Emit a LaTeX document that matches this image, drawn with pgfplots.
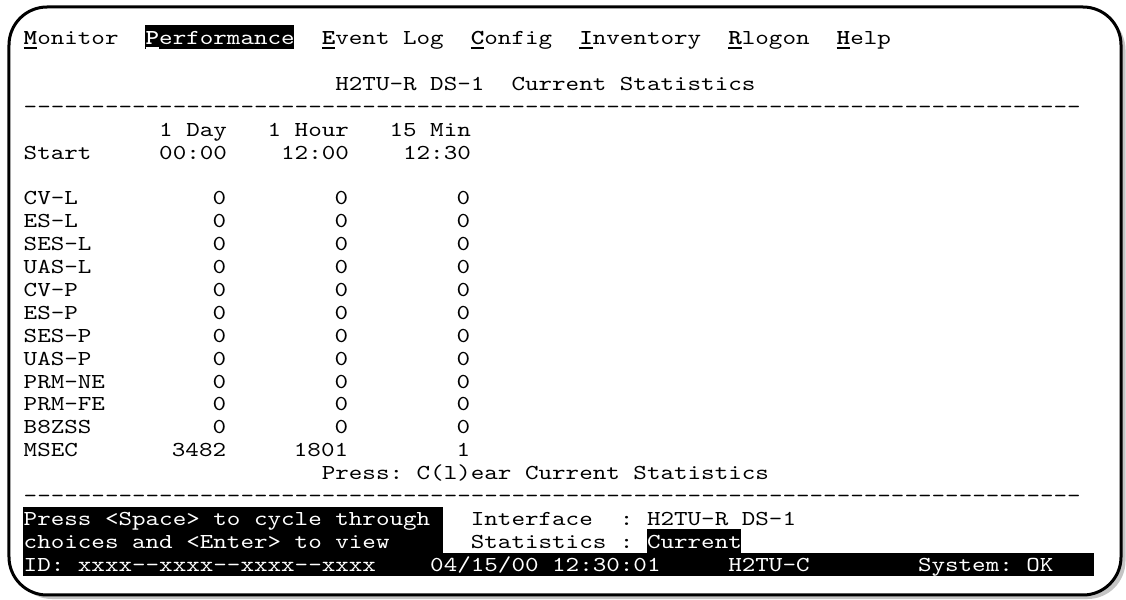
\documentclass[border=0pt]{standalone}
\usepackage{pgfplots}
\pgfplotsset{compat=1.18}
\usepackage{pgfplotstable}
\usepackage{fontspec}
\newfontfamily\term[Extension=.otf, UprightFont=lmmono10-regular, BoldFont=lmmonolt10-bold, FakeStretch=1.213, Ligatures=TeXOff]{lmmono10-regular}
\newcommand\termf{\term\fontsize{10.64pt}{12pt}\selectfont}
\newlength\cw \setlength\cw{6.775pt}
\newcommand\ul[1]{\rlap{\bfseries #1}\rule[-2.1pt]{\cw}{1.1pt}}
\newcommand\T[3]{\node[anchor=base west,inner sep=0pt,font=\termf,text=black] at (axis cs:#1,#2) {#3};}
\newcommand\TW[3]{\node[anchor=base west,inner sep=0pt,font=\termf,text=white] at (axis cs:#1,#2) {#3};}
\definecolor{shadowgray}{HTML}{C4C4C4}

\pgfplotstableread{
row label day hour min
7 CV-L 0 0 0
8 ES-L 0 0 0
9 SES-L 0 0 0
10 UAS-L 0 0 0
11 CV-P 0 0 0
12 ES-P 0 0 0
13 SES-P 0 0 0
14 UAS-P 0 0 0
15 PRM-NE 0 0 0
16 PRM-FE 0 0 0
17 B8ZSS 0 0 0
18 MSEC 3482 1801 1
}\stats

\begin{document}
\begin{tikzpicture}
\begin{axis}[
  scale only axis, width=563pt, height=300pt,
  xmin=-1.71956, xmax=81.380, ymin=-1.94323, ymax=24.2576,
  y dir=reverse, hide axis, clip=false,
]
% frame and shadow
\fill[shadowgray, rounded corners=19pt] (axis cs:-0.686,-1.419) rectangle (axis cs:81.343,24.214);
\draw[line width=1.5pt, fill=white, rounded corners=19pt] (axis cs:-1.0554,-1.6376) rectangle (axis cs:81.011,24.039);
% black backgrounds
\fill[black] (axis cs:9,-0.85) rectangle (axis cs:20,0.2);
\fill[black] (axis cs:0,20.2) rectangle (axis cs:31,22.25);
\fill[black] (axis cs:46,21.17) rectangle (axis cs:53,22.25);
\fill[black] (axis cs:0,22.2) rectangle (axis cs:79,23.21);
% menu
\T{0}{0}{\ul{M}onitor}
\TW{9}{0}{\ul{P}erformance}
\T{22}{0}{\ul{E}vent}
\T{28}{0}{Log}
\T{33}{0}{\ul{C}onfig}
\T{41}{0}{\ul{I}nventory}
\T{52}{0}{\ul{R}logon}
\T{60}{0}{\ul{H}elp}
% title
\T{23}{2}{H2TU-R}
\T{30}{2}{DS-1}
\T{36}{2}{Current}
\T{44}{2}{Statistics}
\T{0}{3}{------------------------------------------------------------------------------}
% headers
\T{10}{4}{1}\T{12}{4}{Day}
\T{18}{4}{1}\T{20}{4}{Hour}
\T{27}{4}{15}\T{30}{4}{Min}
\T{0}{5}{Start}
\T{10}{5}{00:00}
\T{19}{5}{12:00}
\T{28}{5}{12:30}
% statistics
\addplot[draw=none, point meta=explicit symbolic, nodes near coords,
  nodes near coords style={anchor=base west, inner sep=0pt, font=\termf, text=black}]
  table[x expr=0, y=row, meta=label] {\stats};
\addplot[draw=none, point meta=explicit symbolic, nodes near coords,
  nodes near coords style={anchor=base east, inner sep=0pt, font=\termf, text=black}]
  table[x expr=15, y=row, meta=day] {\stats};
\addplot[draw=none, point meta=explicit symbolic, nodes near coords,
  nodes near coords style={anchor=base east, inner sep=0pt, font=\termf, text=black}]
  table[x expr=24, y=row, meta=hour] {\stats};
\addplot[draw=none, point meta=explicit symbolic, nodes near coords,
  nodes near coords style={anchor=base east, inner sep=0pt, font=\termf, text=black}]
  table[x expr=33, y=row, meta=min] {\stats};
% press clear
\T{22}{19}{Press:}
\T{29}{19}{C(l)ear}
\T{37}{19}{Current}
\T{45}{19}{Statistics}
\T{0}{20}{------------------------------------------------------------------------------}
% bottom
\TW{0}{21}{Press}\TW{6}{21}{<Space>}\TW{14}{21}{to}\TW{17}{21}{cycle}\TW{23}{21}{through}
\T{33}{21}{Interface}\T{44}{21}{:}\T{46}{21}{H2TU-R}\T{53}{21}{DS-1}
\TW{0}{22}{choices}\TW{8}{22}{and}\TW{12}{22}{<Enter>}\TW{20}{22}{to}\TW{23}{22}{view}
\T{33}{22}{Statistics}\T{44}{22}{:}\TW{46}{22}{Current}
\TW{0}{23}{ID:}\TW{4}{23}{xxxx--xxxx--xxxx--xxxx}
\TW{30}{23}{04/15/00}\TW{39}{23}{12:30:01}
\TW{52}{23}{H2TU-C}
\TW{66}{23}{System:}\TW{74}{23}{OK}
\end{axis}
\pgfresetboundingbox
\useasboundingbox (current axis.south west) rectangle (current axis.north east);
\end{tikzpicture}
\end{document}
